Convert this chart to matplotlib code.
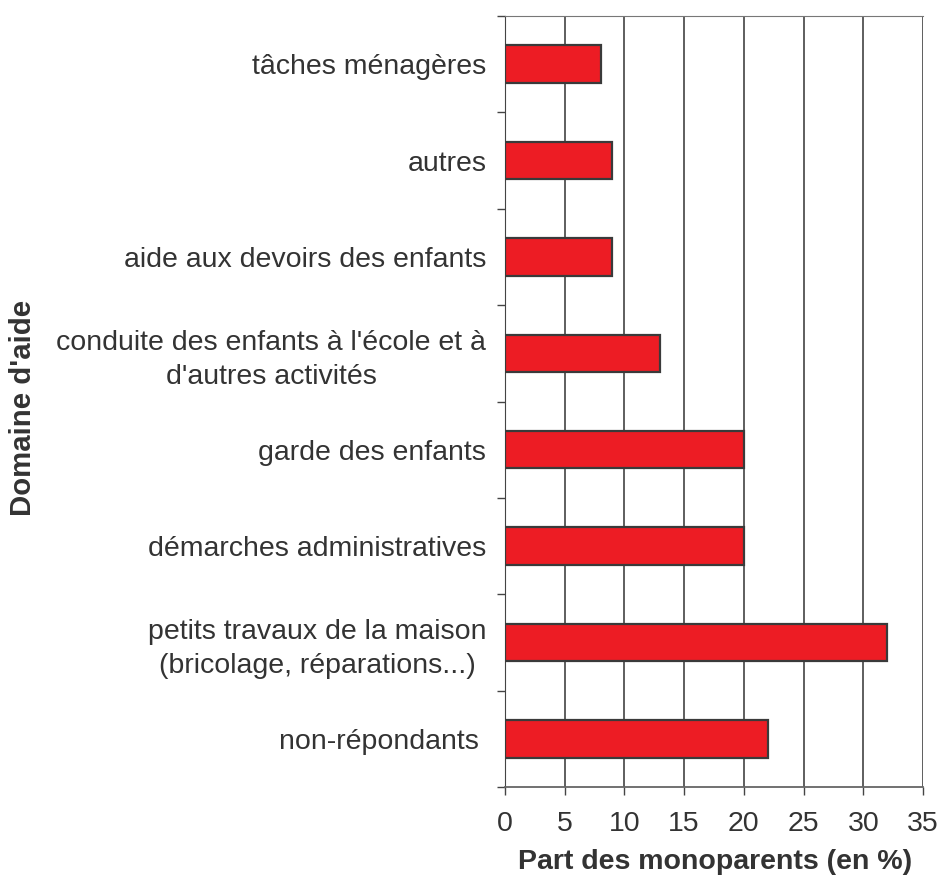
import matplotlib
matplotlib.use("Agg")
import matplotlib.pyplot as plt
import numpy as np

categories = [
    "tâches ménagères",
    "autres",
    "aide aux devoirs des enfants",
    "conduite des enfants à l'école et à\nd'autres activités",
    "garde des enfants",
    "démarches administratives",
    "petits travaux de la maison\n(bricolage, réparations...)",
    "non-répondants ",
]
values = [8, 9, 9, 13, 20, 20, 32, 22]
xticks = [0, 5, 10, 15, 20, 25, 30, 35]

plt.rcParams['font.family'] = ['Liberation Sans', 'DejaVu Sans']
txt = '#333333'
fs = 20.5

fig = plt.figure(figsize=(9.38, 8.86), dpi=100)
ax = fig.add_axes([505/938, 1-787/886, (923-505)/938, (787-16)/886])

n = len(categories)
y = np.arange(n)
ax.barh(y, values, height=0.39, color='#ED1C24', edgecolor='#3a3a3a', linewidth=1.6, zorder=3)
ax.set_ylim(n - 0.5, -0.5)
ax.set_xlim(0, 35)

ax.set_xticks(xticks)
ax.set_xticklabels([str(t) for t in xticks], fontsize=fs, color=txt)
ax.tick_params(axis='x', length=6, width=1, color='#444444', pad=11)
ax.set_yticks(y)
ax.set_yticklabels(categories, fontsize=fs, color=txt, multialignment='center', linespacing=1.4)
ax.tick_params(axis='y', which='major', length=0, pad=13.5)
ax.set_yticks(np.arange(n + 1) - 0.5, minor=True)
ax.tick_params(axis='y', which='minor', length=6, width=1, color='#444444')

ax.grid(axis='x', color='#333333', linewidth=1.1, zorder=0)
ax.spines['right'].set_visible(False)
ax.spines['top'].set_color('#777777')
ax.spines['left'].set_color('#444444')
ax.spines['bottom'].set_color('#666666')
ax.spines['bottom'].set_linewidth(1.3)

fig.text(715/938, 1-862/886, 'Part des monoparents (en %)', fontsize=fs, fontweight='bold',
         color=txt, ha='center', va='center')
fig.text(23/938, 1-408/886, "Domaine d'aide", rotation=90, fontsize=21.2, fontweight='bold',
         color=txt, ha='center', va='center')

fig.savefig('out.png', dpi=100)
